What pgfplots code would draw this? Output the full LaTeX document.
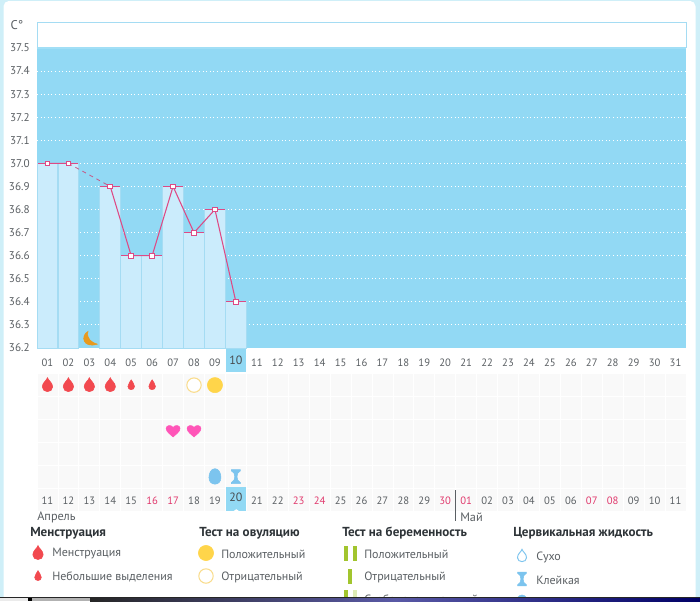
\documentclass[border=0pt]{standalone}
\usepackage{fontspec}
\setmainfont{PT Sans}
\usepackage{xcolor}
\usepackage{pgfplots}
\usepackage{pgfplotstable}
\pgfplotsset{compat=1.18}

\definecolor{skyfill}{HTML}{92D9F4}
\definecolor{barfill}{HTML}{CBECFC}
\definecolor{baredge}{HTML}{A5DCF3}
\definecolor{framecol}{HTML}{CFEFF8}
\definecolor{linepink}{HTML}{DE4A85}
\definecolor{daygray}{HTML}{5A5F63}
\definecolor{dayred}{HTML}{E0386C}
\definecolor{dropred}{HTML}{F2494F}
\definecolor{heartpink}{HTML}{FF55B8}
\definecolor{sunny}{HTML}{FFD54A}
\definecolor{sunnyedge}{HTML}{F9DC8C}
\definecolor{fluidblue}{HTML}{7CC4EE}
\definecolor{moon}{HTML}{E89A1E}
\definecolor{testgreen}{HTML}{A2C52E}
\definecolor{cellgray}{HTML}{F9F9F9}
\definecolor{headtext}{HTML}{2E3438}

% temperature per day, nan = not measured
\pgfplotstableread{
day temp
1 37.0
2 37.0
3 nan
4 36.9
5 36.6
6 36.6
7 36.9
8 36.7
9 36.8
10 36.4
}\temps

\pgfdeclareplotmark{bigdrop}{\fill (0pt,5.6pt) .. controls (0.5pt,3.6pt) and (3.9pt,1.8pt) .. (3.9pt,-1.3pt) .. controls (3.9pt,-3.6pt) and (2pt,-4.9pt) .. (0pt,-4.9pt) .. controls (-2pt,-4.9pt) and (-3.9pt,-3.6pt) .. (-3.9pt,-1.3pt) .. controls (-3.9pt,1.8pt) and (-0.5pt,3.6pt) .. (0pt,5.6pt) -- cycle;}
\pgfdeclareplotmark{smalldrop}{\fill (0pt,4pt) .. controls (0.4pt,2.6pt) and (2.5pt,1.2pt) .. (2.5pt,-1pt) .. controls (2.5pt,-2.6pt) and (1.3pt,-3.4pt) .. (0pt,-3.4pt) .. controls (-1.3pt,-3.4pt) and (-2.5pt,-2.6pt) .. (-2.5pt,-1pt) .. controls (-2.5pt,1.2pt) and (-0.4pt,2.6pt) .. (0pt,4pt) -- cycle;}
\pgfdeclareplotmark{drydrop}{\draw[line width=0.7pt] (0pt,5pt) .. controls (0.5pt,3.2pt) and (3.4pt,1.6pt) .. (3.4pt,-1.2pt) .. controls (3.4pt,-3.2pt) and (1.8pt,-4.2pt) .. (0pt,-4.2pt) .. controls (-1.8pt,-4.2pt) and (-3.4pt,-3.2pt) .. (-3.4pt,-1.2pt) .. controls (-3.4pt,1.6pt) and (-0.5pt,3.2pt) .. (0pt,5pt) -- cycle;}
\pgfdeclareplotmark{heart}{\fill (0pt,-4.5pt) .. controls (-2pt,-2.7pt) and (-5.2pt,-0.6pt) .. (-5.2pt,1.8pt) .. controls (-5.2pt,4.3pt) and (-1.5pt,4.9pt) .. (0pt,2.6pt) .. controls (1.5pt,4.9pt) and (5.2pt,4.3pt) .. (5.2pt,1.8pt) .. controls (5.2pt,-0.6pt) and (2pt,-2.7pt) .. (0pt,-4.5pt) -- cycle;}
\pgfdeclareplotmark{crescent}{\fill (-1pt,6pt) .. controls (-6.8pt,3pt) and (-5pt,-7pt) .. (6pt,-3.5pt) .. controls (2pt,-2.5pt) and (-2.5pt,0.5pt) .. (-1pt,6pt) -- cycle;}
\pgfdeclareplotmark{egg}{\fill (0pt,6pt) .. controls (3pt,6pt) and (4.5pt,2.5pt) .. (4.5pt,-0.6pt) .. controls (4.5pt,-3.8pt) and (2.5pt,-5.6pt) .. (0pt,-5.6pt) .. controls (-2.5pt,-5.6pt) and (-4.5pt,-3.8pt) .. (-4.5pt,-0.6pt) .. controls (-4.5pt,2.5pt) and (-3pt,6pt) .. (0pt,6pt) -- cycle;}
\pgfdeclareplotmark{sticky}{\fill (-3.3pt,5.2pt) -- (3.3pt,5.2pt) -- (3.3pt,4.3pt) .. controls (1.6pt,3.5pt) and (0.8pt,2pt) .. (0.8pt,0pt) .. controls (0.8pt,-2pt) and (1.6pt,-3.5pt) .. (3.3pt,-4.3pt) -- (3.3pt,-5.2pt) -- (-3.3pt,-5.2pt) -- (-3.3pt,-4.3pt) .. controls (-1.6pt,-3.5pt) and (-0.8pt,-2pt) .. (-0.8pt,0pt) .. controls (-0.8pt,2pt) and (-1.6pt,3.5pt) .. (-3.3pt,4.3pt) -- cycle;}
\pgfdeclareplotmark{testbar}{\fill (-1.1pt,-5.2pt) rectangle (1.1pt,5.2pt);}

\begin{document}
\begin{tikzpicture}[x=0.75pt,y=-0.75pt,every node/.style={font=\fontsize{9pt}{11pt}\selectfont}]
\path[use as bounding box] (0,0) rectangle (700,601);
\fill[framecol] (0,0) rectangle (700,601);
\fill[white,rounded corners=4pt] (3.5,1) rectangle (695.5,610);

% white band above 37.5
\fill[white] (37,22) rectangle (686,48);
\draw[color=baredge,line width=0.7pt] (37,48) -- (37,22) -- (686,22) -- (686,48);
\node[text=daygray,font=\fontsize{9.5pt}{11pt}\selectfont] at (17,25) {C°};

% temperature chart
\begin{axis}[
  at={(27.75pt,-261pt)}, anchor=south west, scale only axis,
  width=486.75pt, height=225pt,
  xmin=0.5, xmax=31.5, ymin=36.2, ymax=37.5,
  clip=false,
  axis line style={draw=none},
  axis background/.style={fill=skyfill},
  major tick length=0pt,
  xtick={1,...,31},
  xticklabels={01,02,03,04,05,06,07,08,09,,11,12,13,14,15,16,17,18,19,20,21,22,23,24,25,26,27,28,29,30,31},
  xticklabel style={anchor=center,yshift=-10.8pt,text=daygray,font=\fontsize{8pt}{10pt}\selectfont},
  ytick={36.2,36.3,36.4,36.5,36.6,36.7,36.8,36.9,37.0,37.1,37.2,37.3,37.4,37.5},
  yticklabel style={text=daygray,xshift=-2pt,font=\fontsize{8.4pt}{10pt}\selectfont,
    /pgf/number format/.cd,fixed,fixed zerofill,precision=1,assume math mode=true},
  ymajorgrids=true,
  grid style={white,line width=0.7pt,dotted},
  unbounded coords=jump,
]
\fill[skyfill] (axis cs:9.53,36.195) rectangle (axis cs:10.5,36.097);
\node[text=daygray!80!black,font=\fontsize{9pt}{10pt}\selectfont] at (axis cs:10,36.148) {10};
\draw[color=skyfill!85!white,line width=1pt] (axis cs:0.5,37.5) -- (axis cs:31.5,37.5);
\addplot[ybar,bar width=15.5pt,fill=barfill,draw=baredge,line width=0.7pt,forget plot] table[x=day,y=temp] {\temps};
\addplot[only marks,mark=crescent,color=moon,forget plot] coordinates {(3,36.237)};
\addplot[linepink!75!gray,line width=0.6pt,dashed,forget plot] coordinates {(2,37.0)(4,36.9)};
\addplot[color=linepink,line width=0.8pt,mark=square*,mark size=1.8pt,
  mark options={fill=white,draw=linepink,line width=0.7pt,solid},
  error bars/.cd,x dir=both,x fixed=0.47,error mark=none,
  error bar style={color=linepink,line width=0.9pt}] table[x=day,y=temp] {\temps};
\end{axis}

% marks panel under the chart, one row per kind of entry
\begin{axis}[
  at={(27.75pt,-383.25pt)}, anchor=south west, scale only axis,
  width=486.75pt, height=103pt,
  xmin=0.5, xmax=31.5, ymin=0, ymax=6, y dir=reverse,
  axis line style={draw=none},
  axis background/.style={fill=cellgray},
  major tick length=0pt, minor tick length=0pt,
  xtick={1,...,31},
  minor xtick={0.5,1.5,...,31.5},
  xticklabels={11,12,13,14,15,\textcolor{dayred}{16},\textcolor{dayred}{17},18,19,,21,22,\textcolor{dayred}{23},\textcolor{dayred}{24},25,26,27,28,29,\textcolor{dayred}{30},\textcolor{dayred}{01},02,03,04,05,06,\textcolor{dayred}{07},\textcolor{dayred}{08},09,10,11},
  xticklabel style={anchor=center,yshift=8pt,text=daygray,font=\fontsize{8pt}{10pt}\selectfont},
  ytick={0,1,2,3,4,5,6}, yticklabels={},
  xminorgrids=true, ymajorgrids=true,
  minor grid style={white,line width=0.6pt},
  major grid style={white,line width=0.6pt},
  clip=false,
]
\fill[skyfill] (axis cs:9.53,4.97) rectangle (axis cs:10.5,6);
\fill[white] (axis cs:9.9,6) -- (axis cs:10.02,5.92) -- (axis cs:10.14,6) -- cycle;
\node[text=daygray!80!black,font=\fontsize{9pt}{10pt}\selectfont] at (axis cs:10,5.42) {20};
\addplot[only marks,mark=bigdrop,color=dropred] coordinates {(1,0.5)(2,0.5)(3,0.5)(4,0.5)};
\addplot[only marks,mark=smalldrop,color=dropred] coordinates {(5,0.5)(6,0.5)};
\addplot[only marks,mark=*,mark size=5.4pt,mark options={fill=white,draw=sunnyedge,line width=0.8pt}] coordinates {(8,0.5)};
\addplot[only marks,mark=*,mark size=5.7pt,mark options={fill=sunny,draw=sunny}] coordinates {(9,0.5)};
\addplot[only marks,mark=heart,color=heartpink] coordinates {(7,2.5)(8,2.5)};
\addplot[only marks,mark=egg,color=fluidblue] coordinates {(9,4.5)};
\addplot[only marks,mark=sticky,color=fluidblue] coordinates {(10,4.5)};
\end{axis}

% month names
\node[anchor=west,text=daygray,font=\fontsize{9.2pt}{11pt}\selectfont,inner sep=0pt] at (37,517) {Апрель};
\node[anchor=west,text=daygray,font=\fontsize{9.2pt}{11pt}\selectfont,inner sep=0pt] at (460,517) {Май};
\draw[color=daygray,line width=0.6pt] (455.5,490) -- (455.5,521);

% legend, x and y in pixels of the picture
\begin{axis}[
  at={(0pt,-450pt)}, anchor=south west, scale only axis,
  width=525pt, height=60pt,
  xmin=0, xmax=700, ymin=520, ymax=600, y dir=reverse,
  hide axis, clip=false,
  nodes={anchor=west,inner sep=0pt,text=daygray,font=\fontsize{9pt}{11pt}\selectfont},
]
\addplot[only marks,mark=bigdrop,color=dropred] coordinates {(38,553)};
\addplot[only marks,mark=smalldrop,color=dropred] coordinates {(38,576)};
\addplot[only marks,mark=*,mark size=5.7pt,mark options={fill=sunny,draw=sunny}] coordinates {(206,553)};
\addplot[only marks,mark=*,mark size=5.4pt,mark options={fill=white,draw=sunnyedge,line width=0.8pt}] coordinates {(206,576)};
\addplot[only marks,mark=testbar,color=testgreen] coordinates {(345.5,553)(355,553)(350,576)(345.5,597)};
\addplot[only marks,mark=testbar,color=testgreen!35] coordinates {(355,597)};
\addplot[only marks,mark=drydrop,color=fluidblue] coordinates {(522,556)};
\addplot[only marks,mark=sticky,color=fluidblue] coordinates {(522,579)};
\addplot[only marks,mark=egg,color=fluidblue] coordinates {(522,603)};
\node[text=headtext,font=\fontsize{9.8pt}{11pt}\bfseries\selectfont] at (axis cs:30,533) {Менструация};
\node[text=headtext,font=\fontsize{9.8pt}{11pt}\bfseries\selectfont] at (axis cs:199,533) {Тест на овуляцию};
\node[text=headtext,font=\fontsize{9.8pt}{11pt}\bfseries\selectfont] at (axis cs:342,533) {Тест на беременность};
\node[text=headtext,font=\fontsize{9.8pt}{11pt}\bfseries\selectfont] at (axis cs:513,533) {Цервикальная жидкость};
\node at (axis cs:52,554) {Менструация};
\node at (axis cs:52,577) {Небольшие выделения};
\node at (axis cs:221,554) {Положительный};
\node at (axis cs:221,577) {Отрицательный};
\node at (axis cs:364,554) {Положительный};
\node at (axis cs:364,577) {Отрицательный};
\node at (axis cs:364,599) {Слабоположительный};
\node at (axis cs:536,557) {Сухо};
\node at (axis cs:536,580) {Клейкая};
\node at (axis cs:536,604) {Кремообразная};
\end{axis}

% window taskbar cutting off the bottom of the screenshot
\fill[white!92!black] (0,597) rectangle (28,601);
\fill[black] (28,597) rectangle (32,601);
\fill[gray!60] (32,597) rectangle (90,601);
\shade[left color=black!85,right color=blue!40!black,middle color=blue!30!gray] (90,597) rectangle (700,601);
\fill[black!85] (0,596.6) rectangle (700,597.6);
\end{tikzpicture}
\end{document}
